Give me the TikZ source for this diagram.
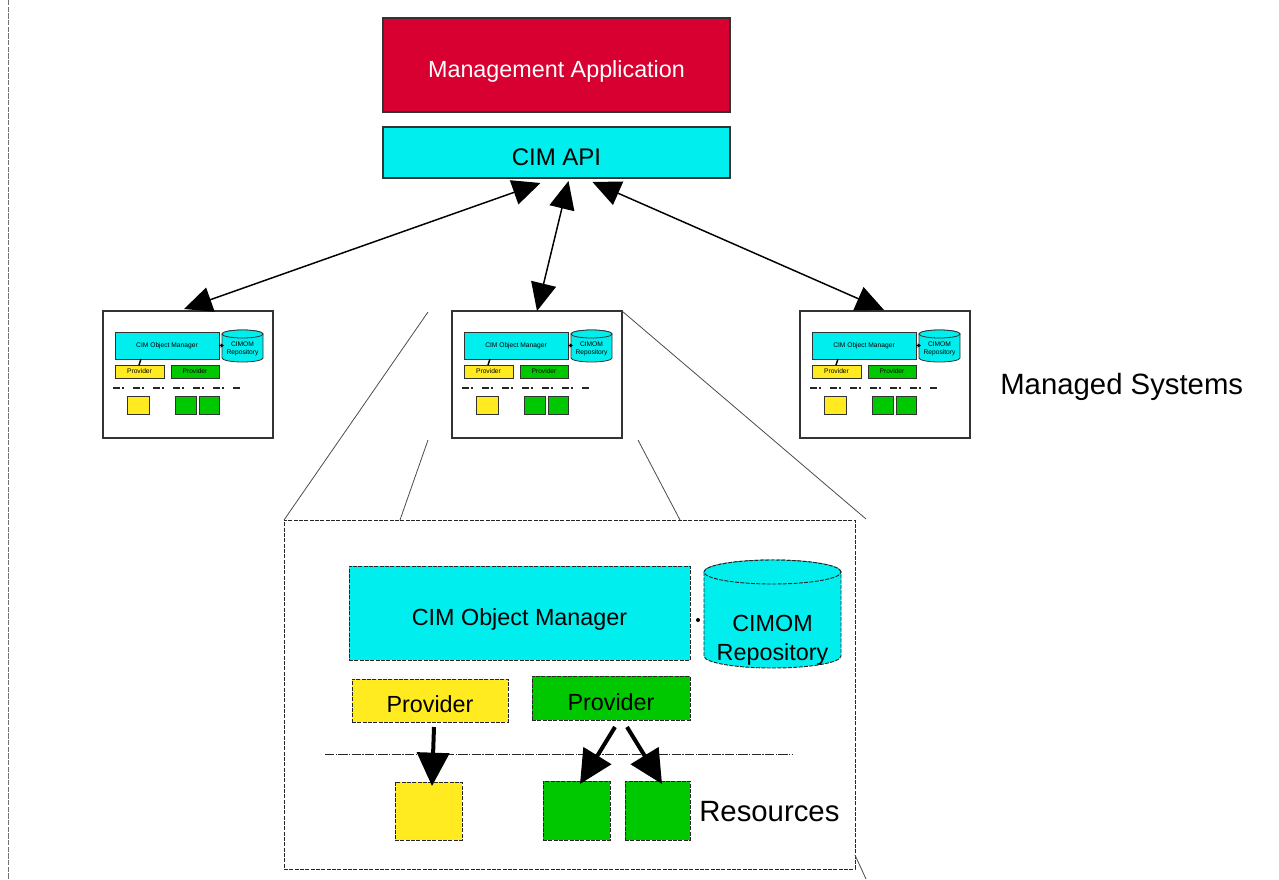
\documentclass[tikz,border=0pt]{standalone}
\usepackage{fontspec}
\setmainfont{Liberation Sans}
\usetikzlibrary{arrows.meta,calc}
\definecolor{mred}{HTML}{D70030}
\definecolor{mcyan}{HTML}{00EEEE}
\definecolor{myel}{HTML}{FFEB1F}
\definecolor{mgreen}{HTML}{00C800}
\newcommand\pbox[7]{\node[#2, minimum width={(#5-#3)*0.75pt}, minimum height={(#6-#4)*0.75pt}] (#1) at ({(#3+#5)/2},{(#4+#6)/2}) {#7};}
\newcommand\cylpath[6]{%
 \path[#1] (#2,{#3+#6}) -- (#2,{#5-#6}) arc[start angle=180,end angle=360,x radius={(#4-#2)*0.375pt},y radius={#6*0.75pt}] -- (#4,{#3+#6}) arc[start angle=0,end angle=180,x radius={(#4-#2)*0.375pt},y radius={#6*0.75pt}] -- cycle;
 \path[#1] ({(#2+#4)/2},{#3+#6}) ellipse[x radius={(#4-#2)*0.375pt},y radius={#6*0.75pt}];}
\begin{document}
\begin{tikzpicture}[x=0.75pt,y=-0.75pt,
 sbox/.style={draw=black!80, line width=0.8pt, inner sep=0pt, outer sep=0pt},
 dbox/.style={draw=black!85, line width=0.7pt, dash pattern=on 3pt off 1pt, inner sep=0pt, outer sep=0pt},
 txtL/.style={font=\fontsize{17.5}{21}\selectfont, text height=18.6pt, text depth=0pt},
 txtS/.style={font=\fontsize{5}{6}\selectfont},
 bigarr/.style={line width=1.1pt, {Triangle[length=21pt,width=19pt]}-{Triangle[length=21pt,width=19pt]}},
 resarr/.style={line width=3pt, -{Triangle[length=25pt,width=24pt]}},
 zoomline/.style={draw=black!70, line width=0.6pt},
 ddline/.style={draw=black!85, line width=0.7pt, dash pattern=on 7pt off 1pt on 1pt off 1pt},
 sdline/.style={draw=black!85, line width=0.9pt, dash pattern=on 5pt off 1.5pt on 1.5pt off 7pt},
]
\useasboundingbox (0,0) rectangle (1279,879);
\fill[white] (0,0) rectangle (1279,879);
% left dashed margin line
\draw[draw=black!55, line width=0.6pt, dash pattern=on 4pt off 1pt] (8,0) -- (8,879);

% top boxes
\pbox{app}{sbox, fill=mred, text=white, txtL}{383}{18}{730}{112}{Management Application}
\pbox{api}{sbox, fill=mcyan, font=\fontsize{18}{21}\selectfont, text height=19pt, text depth=0pt}{383}{127}{730}{178}{CIM API}

% managed systems
\foreach \s/\ox in {L/103,M/452,R/800}{
 \begin{scope}[shift={(\ox,311)}]
  \pbox{sys\s}{sbox, fill=white}{0}{0}{170}{127}{}
  \pbox{om\s}{sbox, line width=0.6pt, fill=mcyan, txtS}{12}{21}{116}{48}{CIM Object Manager}
  \cylpath{fill=mcyan, draw=black!80, line width=0.6pt}{119}{19}{160}{51}{4}
  \node[txtS, align=center, inner sep=0pt] (rep\s) at (139.5,38) {CIMOM\\Repository};
  \pbox{pY\s}{sbox, line width=0.6pt, fill=myel, txtS}{12}{54}{61}{67}{Provider}
  \pbox{pG\s}{sbox, line width=0.6pt, fill=mgreen, txtS}{68}{54}{116}{67}{Provider}
  \draw[sdline] (10,77) -- (137,77);
  \pbox{rY\s}{sbox, line width=0.6pt, fill=myel}{24}{85}{46}{103}{}
  \pbox{rGa\s}{sbox, line width=0.6pt, fill=mgreen}{72}{85}{93}{103}{}
  \pbox{rGb\s}{sbox, line width=0.6pt, fill=mgreen}{96}{85}{116}{103}{}
  \draw[line width=1.1pt] ($(om\s.south west)+(26,0)$) -- ($(pY\s.north west)+(24,0)$);
  \draw[line width=1pt, -{Triangle[length=2.5pt,width=3pt]}] (om\s.east) -- ++(5,0);
 \end{scope}
}
\node[font=\fontsize{22}{26}\selectfont, anchor=west, inner sep=0pt] (ms) at (1000,387) {Managed Systems};

% arrows from CIM API
\draw[bigarr] ($(api.south)+(-16,5)$) -- ($(sysL.north)+(-4,-2)$);
\draw[bigarr] ($(api.south)+(12,3)$) -- ($(sysM.north)+(0,0)$);
\draw[bigarr] ($(api.south)+(36,4)$) -- ($(sysR.north)+(-1,-1)$);

% zoom frame
\pbox{frame}{dbox}{284}{520}{855}{869}{}
\coordinate (zl1) at (428,312);
\coordinate (zl2) at (428,440);
\coordinate (zr2) at (638,440);
\coordinate (zr1e) at (866,519);
\coordinate (zbr) at (866,879);
\draw[zoomline] (zl1) -- (frame.north west);
\draw[zoomline] (zl2) -- ($(frame.north west)+(116,0)$);
\draw[zoomline] (zr2) -- ($(frame.north west)+(396,0)$);
\draw[zoomline] (sysM.north east) -- (zr1e);
\draw[zoomline] ($(frame.south east)+(0,-14)$) -- (zbr);

% detail
\pbox{omB}{dbox, fill=mcyan, txtL}{349}{566}{690}{660}{CIM Object Manager}
\cylpath{fill=mcyan, draw=black!85, line width=0.7pt, dash pattern=on 3pt off 1pt}{704}{560}{841}{668}{12}
\node[font=\fontsize{17.5}{21.5}\selectfont, align=center, inner sep=0pt] (repB) at (772.5,640) {CIMOM\\Repository};
\fill ($(omB.east)+(8,7)$) circle[radius=1.5pt];
\pbox{pYB}{dbox, fill=myel, txtL}{352}{679}{508}{722}{Provider}
\pbox{pGB}{dbox, fill=mgreen, txtL}{532}{676}{690}{720}{Provider}
\draw[ddline] (325,754) -- (793,754);
\pbox{rYB}{dbox, fill=myel}{395}{782}{462}{840}{}
\pbox{rGB1}{dbox, fill=mgreen}{543}{781}{610}{840}{}
\pbox{rGB2}{dbox, fill=mgreen}{625}{781}{690}{840}{}
\node[font=\fontsize{22}{26}\selectfont, anchor=west, inner sep=0pt] (res) at (699,812) {Resources};
\draw[resarr] ($(pYB.south)+(4,5)$) -- ($(rYB.north)+(3.5,4)$);
\draw[resarr] ($(pGB.south)+(4,7)$) -- ($(rGB1.north)+(3.5,3)$);
\draw[resarr] ($(pGB.south)+(16,7)$) -- ($(rGB2.north)+(4.5,3)$);
\end{tikzpicture}
\end{document}
